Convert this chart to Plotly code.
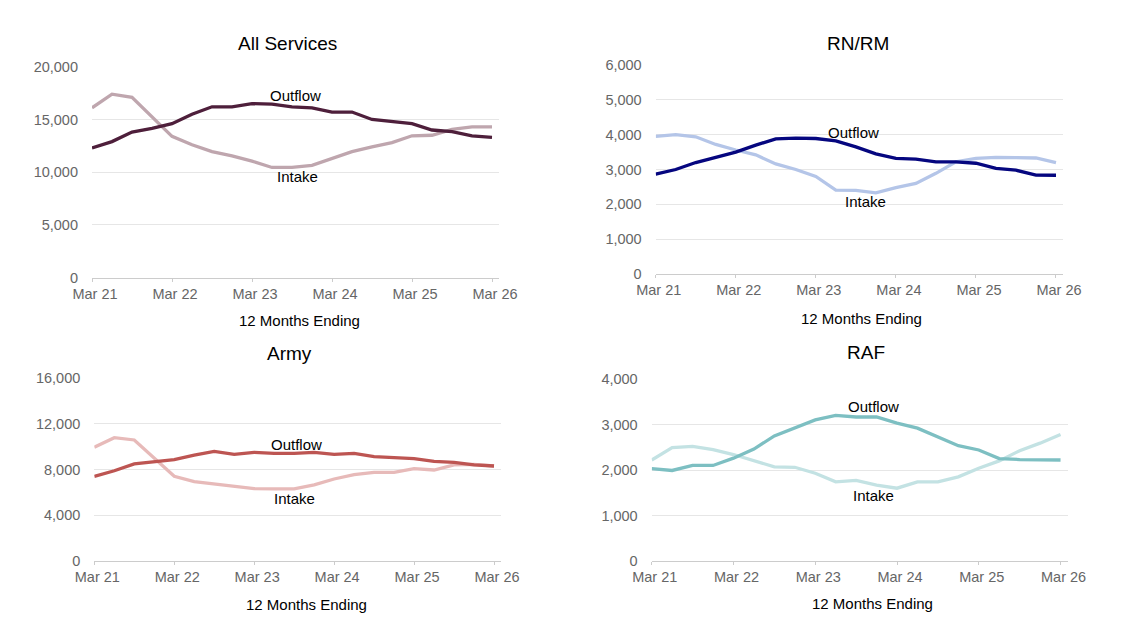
import plotly.graph_objects as go

quarters = list(range(21))
year_ticks = [0, 4, 8, 12, 16, 20]
year_labels = ["Mar 21", "Mar 22", "Mar 23", "Mar 24", "Mar 25", "Mar 26"]

all_outflow = [12300, 12900, 13800, 14150, 14600, 15500, 16200, 16200, 16500, 16450, 16200,
               16100, 15700, 15700, 15000, 14800, 14600, 14000, 13850, 13450, 13300]
all_intake = [16100, 17400, 17100, 15300, 13400, 12600, 11950, 11550, 11050, 10450, 10450,
              10650, 11300, 11950, 12400, 12800, 13450, 13500, 14050, 14300, 14300]

rn_outflow = [2870, 3000, 3200, 3350, 3500, 3700, 3880, 3900, 3890, 3820, 3650,
              3450, 3320, 3300, 3220, 3220, 3180, 3030, 2980, 2840, 2835]
rn_intake = [3950, 4000, 3940, 3720, 3560, 3420, 3160, 3000, 2800, 2410, 2400,
             2330, 2480, 2600, 2890, 3220, 3320, 3350, 3340, 3330, 3200]

army_outflow = [7400, 7900, 8500, 8700, 8880, 9280, 9600, 9340, 9520, 9430, 9430,
                9520, 9340, 9430, 9140, 9050, 8960, 8730, 8640, 8410, 8320]
army_intake = [9960, 10800, 10600, 9000, 7420, 6950, 6750, 6510, 6340, 6310, 6310,
               6660, 7180, 7560, 7770, 7770, 8090, 7970, 8410, 8470, 8320]

raf_outflow = [2030, 1990, 2100, 2100, 2260, 2460, 2750, 2920, 3100, 3200, 3165,
               3165, 3030, 2920, 2720, 2535, 2440, 2250, 2230, 2220, 2220]
raf_intake = [2220, 2490, 2520, 2450, 2340, 2205, 2070, 2060, 1930, 1740, 1770,
              1670, 1600, 1740, 1740, 1850, 2040, 2200, 2425, 2590, 2780]

panels = [
    dict(title="All Services", out=all_outflow, inn=all_intake, c_out="#4e1f3b", c_in="#bfa6ae",
         ymax=20000, dtick=5000, xd=(92, 499), yd=(66.7, 277.7), tpos=(287, 43), apos=(299, 320),
         lab_out=(10.15, 17300), lab_in=(10.25, 9550)),
    dict(title="RN/RM", out=rn_outflow, inn=rn_intake, c_out="#05067f", c_in="#b4c5e8",
         ymax=6000, dtick=1000, xd=(655.7, 1063), yd=(65, 274), tpos=(858, 43), apos=(861, 318),
         lab_out=(9.9, 4076), lab_in=(10.5, 2067)),
    dict(title="Army", out=army_outflow, inn=army_intake, c_out="#bd5552", c_in="#e7bab9",
         ymax=16000, dtick=4000, xd=(94.3, 501), yd=(378.3, 561), tpos=(289, 353), apos=(306, 604),
         lab_out=(10.1, 10246), lab_in=(10.0, 5517)),
    dict(title="RAF", out=raf_outflow, inn=raf_intake, c_out="#7dbfc2", c_in="#c3e2e3",
         ymax=4000, dtick=1000, xd=(651.7, 1067.7), yd=(379, 561), tpos=(866, 352), apos=(872, 603),
         lab_out=(10.85, 3385), lab_in=(10.85, 1450)),
]

FONT = "Liberation Sans, Arial, sans-serif"
W, H = 1146, 643
fig = go.Figure()
annotations = []
for i, p in enumerate(panels, start=1):
    xa = "x" if i == 1 else f"x{i}"
    ya = "y" if i == 1 else f"y{i}"
    fig.add_trace(go.Scatter(x=quarters, y=p["inn"], mode="lines", xaxis=xa, yaxis=ya,
                             line=dict(color=p["c_in"], width=3.3), showlegend=False,
                             name="Intake"))
    fig.add_trace(go.Scatter(x=quarters, y=p["out"], mode="lines", xaxis=xa, yaxis=ya,
                             line=dict(color=p["c_out"], width=3.3), showlegend=False,
                             name="Outflow"))
    x0, x1 = p["xd"][0] / W, p["xd"][1] / W
    y0, y1 = 1 - p["yd"][1] / H, 1 - p["yd"][0] / H
    xkey = "xaxis" if i == 1 else f"xaxis{i}"
    ykey = "yaxis" if i == 1 else f"yaxis{i}"
    fig.layout[xkey] = dict(domain=[x0, x1], anchor=ya, range=[0, 20.35], automargin=False,
                            tickvals=year_ticks, ticktext=year_labels,
                            showgrid=False, showline=True, linecolor="#cccccc", linewidth=1,
                            ticks="outside", ticklen=3, tickcolor="#cccccc",
                            ticklabelshift=3,
                            tickfont=dict(family=FONT, size=14.5, color="#666666"),
                            zeroline=False, fixedrange=True)
    fig.layout[ykey] = dict(domain=[y0, y1], anchor=xa, range=[0, p["ymax"]], automargin=False,
                            dtick=p["dtick"], tick0=0, tickformat=",",
                            showgrid=True, gridcolor="#e6e6e6", gridwidth=1,
                            zeroline=False, showline=False, ticks="",
                            ticklabelstandoff=13,
                            tickfont=dict(family=FONT, size=14.5, color="#666666"),
                            fixedrange=True)
    annotations.append(dict(text=p["title"], x=p["tpos"][0] / W, y=1 - p["tpos"][1] / H,
                            xref="paper", yref="paper",
                            showarrow=False, xanchor="center", yanchor="middle",
                            font=dict(family=FONT, size=19, color="#000000")))
    annotations.append(dict(text="12 Months Ending", x=p["apos"][0] / W, y=1 - p["apos"][1] / H,
                            xref="paper", yref="paper",
                            showarrow=False, xanchor="center", yanchor="middle",
                            font=dict(family=FONT, size=15, color="#000000")))
    annotations.append(dict(text="Outflow", x=p["lab_out"][0], y=p["lab_out"][1], xref=xa, yref=ya,
                            showarrow=False, xanchor="center", yanchor="middle",
                            font=dict(family=FONT, size=15, color="#000000")))
    annotations.append(dict(text="Intake", x=p["lab_in"][0], y=p["lab_in"][1], xref=xa, yref=ya,
                            showarrow=False, xanchor="center", yanchor="middle",
                            font=dict(family=FONT, size=15, color="#000000")))

fig.update_layout(width=W, height=H, margin=dict(l=0, r=0, t=0, b=0, autoexpand=False),
                  paper_bgcolor="white", plot_bgcolor="white",
                  annotations=annotations, showlegend=False)
fig.write_html("out.html")
